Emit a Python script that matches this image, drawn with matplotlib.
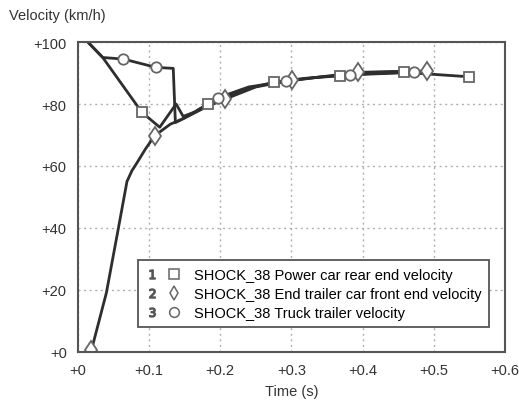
import matplotlib.pyplot as plt
from matplotlib.lines import Line2D
from matplotlib.legend_handler import HandlerTuple

plt.rcParams['font.family'] = ['Liberation Sans', 'DejaVu Sans']

# 1: power car rear end velocity (squares)
power_t = [0.014, 0.035, 0.09, 0.115, 0.138, 0.148, 0.165, 0.183, 0.23, 0.275, 0.32, 0.368, 0.41, 0.458, 0.549]
power_v = [100, 95, 77.3, 72.5, 80, 76, 77.5, 80, 84.5, 87, 88.3, 89.1, 89.8, 90.2, 88.8]
power_mt = [0.09, 0.183, 0.275, 0.368, 0.458, 0.549]
power_mv = [77.3, 80, 87, 89.1, 90.2, 88.8]

# 2: end trailer car front end velocity (diamonds)
trailer_t = [0.019, 0.04, 0.057, 0.069, 0.076, 0.083, 0.095, 0.108, 0.13, 0.15, 0.18, 0.207, 0.25, 0.301, 0.35, 0.394, 0.44, 0.491]
trailer_v = [0.5, 19, 40, 55, 58.5, 61, 65.5, 69.8, 73.5, 75.5, 79, 81.6, 85.5, 87.7, 89, 90.2, 90.5, 90.6]
trailer_mt = [0.019, 0.108, 0.207, 0.301, 0.394, 0.491]
trailer_mv = [0.5, 69.8, 81.6, 87.7, 90.2, 90.6]

# 3: truck trailer velocity (circles)
truck_t = [0.014, 0.035, 0.064, 0.11, 0.134, 0.137, 0.15, 0.197, 0.24, 0.292, 0.34, 0.382, 0.472]
truck_v = [100, 95, 94.5, 91.8, 91.5, 74, 75.5, 82, 85.5, 87.3, 88.7, 89.4, 90.2]
truck_mt = [0.064, 0.11, 0.197, 0.292, 0.382, 0.472]
truck_mv = [94.5, 91.8, 82, 87.3, 89.4, 90.2]

labels = ['SHOCK_38 Power car rear end velocity',
          'SHOCK_38 End trailer car front end velocity',
          'SHOCK_38 Truck trailer velocity']
xticks = [0, 0.1, 0.2, 0.3, 0.4, 0.5, 0.6]
yticks = [0, 20, 40, 60, 80, 100]

line_col = '#2e2e2e'
mk_col = '#666666'
fs = 10.5

fig = plt.figure(figsize=(5.19, 4.02), dpi=100)
ax = fig.add_axes([0.150, 0.122, 0.823, 0.771])

ax.plot(trailer_t, trailer_v, color=line_col, lw=2.0)
ax.plot(power_t, power_v, color=line_col, lw=2.0)
ax.plot(truck_t, truck_v, color=line_col, lw=2.0)

mk = dict(ls='none', mfc='white', mec=mk_col, mew=1.3, ms=7.5)
ax.plot(power_mt, power_mv, marker='s', **mk)
ax.plot(trailer_mt, trailer_mv, marker='d', **{**mk, 'ms': 9.5})
ax.plot(truck_mt, truck_mv, marker='o', **mk)

ax.set_xlim(0, 0.6)
ax.set_ylim(0, 100)
ax.set_xticks(xticks)
ax.set_yticks(yticks)
ax.set_xticklabels(['+%g' % t for t in xticks])
ax.set_yticklabels(['+%g' % t for t in yticks])
ax.tick_params(length=0, labelsize=fs, colors='#333333', pad=8)
ax.grid(True, color='#b0b0b0', ls=(0, (1.5, 2.5)), lw=1.0)
for s in ax.spines.values():
    s.set_color('#555555')
    s.set_linewidth(1.5)

fig.text(0.018, 0.95, 'Velocity (km/h)', fontsize=fs, color='#333333')
ax.set_xlabel('Time (s)', fontsize=fs, color='#333333', labelpad=5)

hmk = dict(ls='none', mfc='white', mec=mk_col, mew=1.1, ms=7)
handles = []
for i, m in enumerate(['s', 'd', 'o']):
    num = Line2D([], [], ls='none', marker='$%d$' % (i + 1), color='#555555', ms=6.5)
    sym = Line2D([], [], marker=m, **hmk)
    handles.append((num, sym))
leg = ax.legend(handles, labels, handler_map={tuple: HandlerTuple(ndivide=None, pad=0.6)},
                loc='lower right', bbox_to_anchor=(0.962, 0.08), fontsize=fs,
                fancybox=False, framealpha=1, edgecolor='#555555', borderaxespad=0,
                handlelength=2.4, handletextpad=0.9, labelspacing=0.35, borderpad=0.5)
leg.get_frame().set_linewidth(1.3)

fig.savefig('out.png', dpi=100)
